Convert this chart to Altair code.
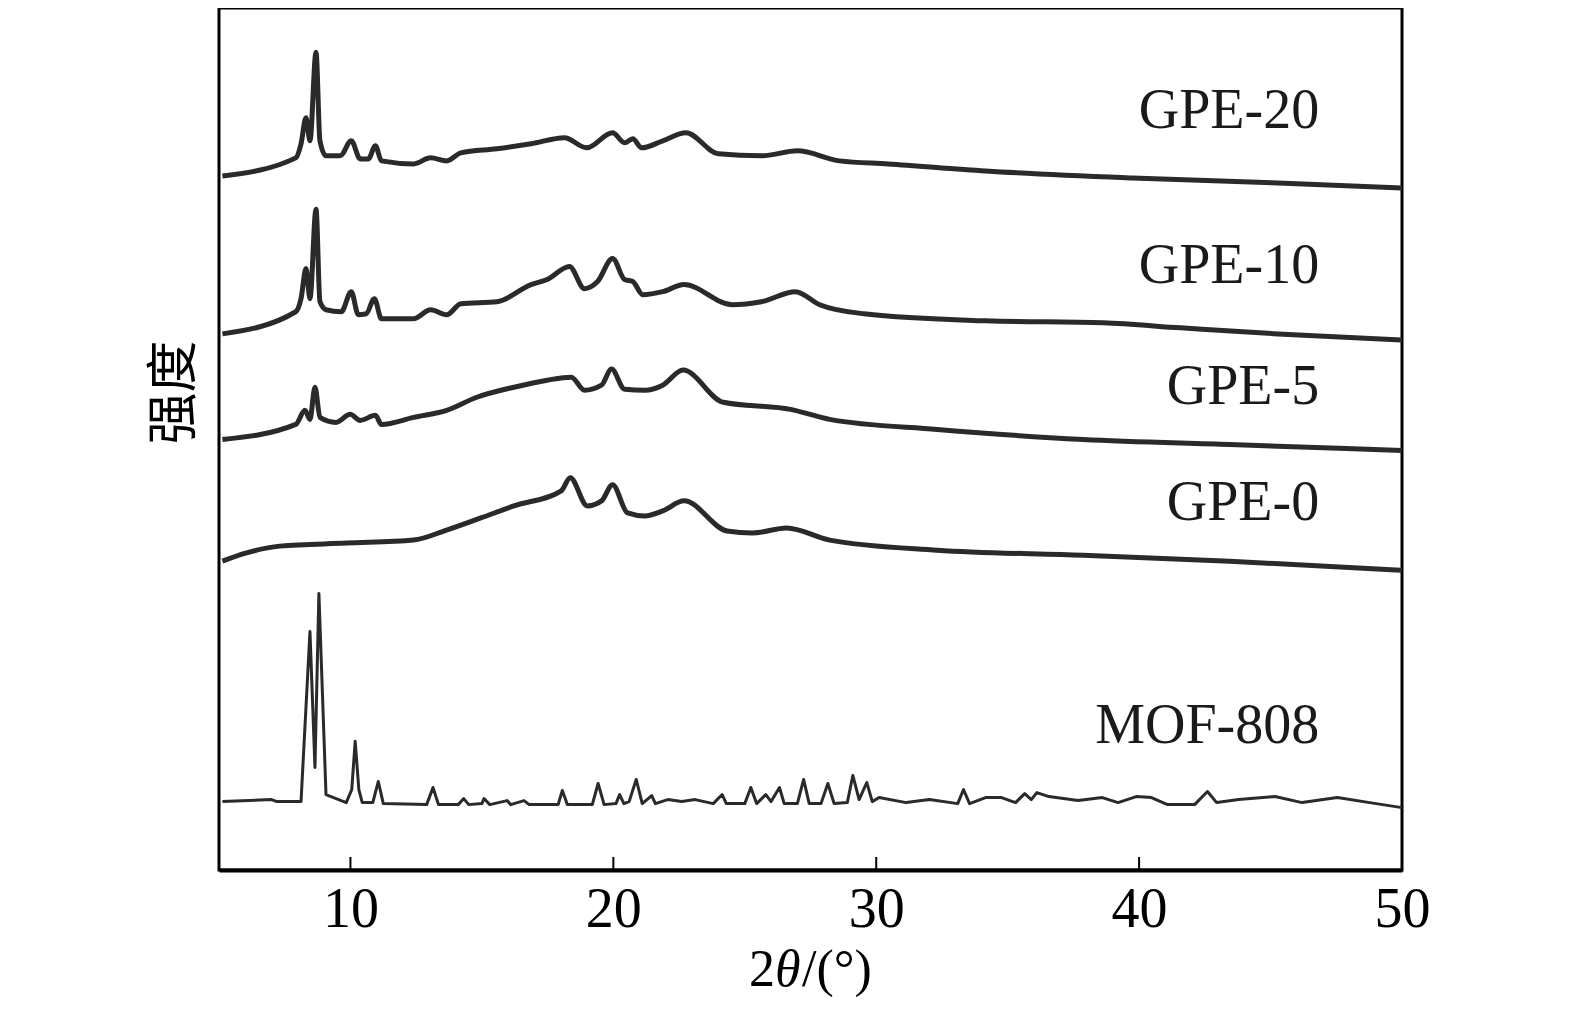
import altair as alt
import pandas as pd

# 2theta (deg) and intensity (a.u., stacked offsets as drawn)
gpe20_x = [5.13, 7.92, 8.12, 8.31, 8.46, 8.69, 8.84, 9.07, 9.61, 10.03, 10.37, 10.68, 10.95, 11.18,
           12.40, 13.05, 13.66, 14.20, 15.57, 16.87, 18.14, 18.98, 19.97, 20.43, 20.74, 21.08, 21.88,
           22.76, 23.99, 25.63, 27.0, 28.61, 30.45, 34.16, 39.74, 45.29, 50.0]
gpe20_y = [690, 708, 722, 748, 725, 813, 725, 710, 710, 725, 707, 707, 720, 705,
           702, 708, 705, 713, 717, 722, 728, 718, 733, 723, 727, 718, 725,
           733, 712, 710, 715, 705, 702, 695, 688, 683, 678]

gpe10_x = [5.13, 7.92, 8.12, 8.31, 8.46, 8.69, 8.84, 9.07, 9.65, 10.03, 10.30, 10.60, 10.91, 11.18,
           12.40, 13.05, 13.66, 14.20, 15.57, 16.87, 17.48, 18.33, 18.90, 19.40, 19.97, 20.43, 20.74,
           21.12, 21.88, 22.69, 24.52, 25.63, 26.93, 27.85, 29.53, 34.16, 38.63, 41.58, 45.29, 50.0]
gpe10_y = [533, 555, 568, 598, 568, 657, 565, 557, 555, 575, 552, 553, 568, 548,
           548, 557, 552, 563, 565, 582, 587, 600, 578, 585, 608, 587, 585,
           572, 575, 582, 562, 565, 575, 562, 553, 546, 544, 539, 533, 527]

gpe5_x = [5.13, 7.92, 8.27, 8.46, 8.65, 8.84, 9.45, 9.99, 10.37, 10.95, 11.18, 12.40, 13.66, 14.81,
          16.22, 17.48, 18.40, 18.90, 19.55, 19.93, 20.43, 21.19, 21.88, 22.65, 24.18, 26.74, 28.23,
          32.32, 37.87, 43.45, 50.0]
gpe5_y = [428, 443, 457, 448, 480, 450, 445, 453, 447, 452, 443, 450, 457, 470,
          480, 487, 490, 477, 482, 498, 478, 477, 482, 497, 465, 458, 448,
          438, 428, 423, 417]

gpe0_x = [5.13, 6.01, 7.31, 9.84, 12.40, 13.66, 14.96, 16.22, 18.02, 18.36, 19.01, 19.55, 19.97,
          20.54, 21.19, 21.88, 22.69, 24.33, 25.29, 26.59, 28.23, 32.32, 37.87, 43.45, 50.0]
gpe0_y = [307, 315, 322, 325, 328, 338, 350, 362, 377, 390, 362, 367, 383,
          355, 352, 357, 367, 337, 335, 340, 328, 318, 313, 307, 298]

mof_x = [5.13, 7.0, 7.2, 8.12, 8.46, 8.65, 8.80, 9.07, 9.84, 10.05, 10.18, 10.32, 10.45, 10.85,
         11.06, 11.25, 12.9, 13.14, 13.35, 14.1, 14.31, 14.5, 15.0, 15.08, 15.3, 15.96, 16.1, 16.6,
         16.8, 17.9, 18.06, 18.25, 19.2, 19.42, 19.65, 20.1, 20.24, 20.4, 20.6, 20.87, 21.1, 21.46,
         21.6, 22.07, 22.6, 23.11, 23.8, 24.14, 24.3, 25.0, 25.23, 25.45, 25.8, 26.0, 26.32, 26.5,
         27.0, 27.24, 27.45, 27.9, 28.16, 28.4, 28.9, 29.11, 29.35, 29.64, 29.85, 30.11, 31.14,
         32.02, 33.1, 33.32, 33.55, 34.16, 34.77, 35.3, 35.65, 35.9, 36.11, 36.57, 37.68, 38.6,
         39.2, 39.89, 40.47, 41.08, 42.11, 42.6, 42.95, 43.79, 45.17, 46.2, 47.54, 48.77, 50.0]
mof_y = [68, 70, 68, 68, 237, 102, 275, 75, 67, 80, 128, 80, 67, 67,
         88, 66, 65, 82, 65, 65, 71, 65, 66, 71, 65, 69, 65, 69,
         65, 65, 79, 65, 65, 86, 65, 66, 75, 66, 68, 90, 66, 74,
         66, 70, 68, 70, 66, 75, 66, 66, 82, 66, 75, 68, 82, 66,
         66, 90, 66, 66, 86, 66, 67, 94, 70, 87, 68, 72, 67,
         70, 66, 80, 66, 72, 72, 67, 76, 70, 77, 73, 69, 72,
         67, 73, 72, 65, 65, 78, 67, 70, 73, 67, 72, 67, 62]

label_names = ["GPE-20", "GPE-10", "GPE-5", "GPE-0", "MOF-808"]
label_x = [46.85, 46.85, 46.85, 46.85, 46.85]
label_y = [755, 600, 480, 365, 143]

tick_values = [10, 20, 30, 40]

# x-axis title pieces: (text, style)
xtitle_parts = [("2", "normal"), ("θ", "italic"), ("/(°)", "normal")]

series = [("GPE-20", gpe20_x, gpe20_y), ("GPE-10", gpe10_x, gpe10_y),
          ("GPE-5", gpe5_x, gpe5_y), ("GPE-0", gpe0_x, gpe0_y)]
rows = []
for name, xs, ys in series:
    for i, (a, b) in enumerate(zip(xs, ys)):
        rows.append({"s": name, "x": a, "y": b, "o": i})
gpe_df = pd.DataFrame(rows)
mof_df = pd.DataFrame({"s": "MOF-808", "x": mof_x, "y": mof_y, "o": range(len(mof_x))})
lab_df = pd.DataFrame({"name": label_names, "x": label_x, "y": label_y})
tick_df = pd.DataFrame({"t": tick_values})

W, H = 1183, 862
xscale = alt.Scale(domain=[5, 50], nice=False, zero=False)
yscale = alt.Scale(domain=[0, 857], nice=False, zero=False)
FONT = "Liberation Serif"
INK = "#2a2a2a"

xaxis = alt.Axis(values=[10, 20, 30, 40, 50], ticks=False, grid=False, labelFont=FONT,
                 labelFontSize=56, labelColor="black", labelPadding=12, labelFlush=False,
                 domainColor="black", domainWidth=4, title=None)
yaxis = alt.Axis(labels=False, ticks=False, grid=False, domain=False, title="强度",
                 titleFont="Noto Sans CJK SC", titleFontSize=52, titleFontWeight="normal",
                 titleColor="black", titleX=-45, titleY=384, titleBaseline="middle",
                 titleAngle=270)

gpe = alt.Chart(gpe_df).mark_line(color=INK, strokeWidth=5, strokeJoin="round",
                                  interpolate="monotone").encode(
    x=alt.X("x:Q", scale=xscale, axis=xaxis),
    y=alt.Y("y:Q", scale=yscale, axis=yaxis),
    detail="s:N",
    order="o:Q",
)
mof = alt.Chart(mof_df).mark_line(color=INK, strokeWidth=3, strokeJoin="round").encode(
    x=alt.X("x:Q", scale=xscale),
    y=alt.Y("y:Q", scale=yscale),
    order="o:Q",
)
labels = alt.Chart(lab_df).mark_text(align="right", baseline="middle", font=FONT,
                                     fontSize=56, color="#1a1a1a").encode(
    x=alt.X("x:Q", scale=xscale),
    y=alt.Y("y:Q", scale=yscale),
    text="name:N",
)
ticks = alt.Chart(tick_df).mark_rule(color="black", strokeWidth=2).encode(
    x=alt.X("t:Q", scale=xscale),
    y=alt.value(H - 13),
    y2=alt.value(H),
)

# axis title assembled from pieces so that theta is italic
TX, TY, TFS = 556, 978, 52
t_2 = alt.Chart(pd.DataFrame({"t": [xtitle_parts[0][0]]})).mark_text(
    align="right", baseline="alphabetic", font=FONT, fontSize=TFS, color="black",
    fontStyle=xtitle_parts[0][1]).encode(text="t:N", x=alt.value(TX), y=alt.value(TY))
t_th = alt.Chart(pd.DataFrame({"t": [xtitle_parts[1][0]]})).mark_text(
    align="left", baseline="alphabetic", font=FONT, fontSize=TFS, color="black",
    fontStyle=xtitle_parts[1][1]).encode(text="t:N", x=alt.value(TX), y=alt.value(TY))
t_rest = alt.Chart(pd.DataFrame({"t": [xtitle_parts[2][0]]})).mark_text(
    align="left", baseline="alphabetic", font=FONT, fontSize=TFS, color="black",
    fontStyle=xtitle_parts[2][1]).encode(text="t:N", x=alt.value(TX + 27), y=alt.value(TY))

chart = alt.layer(gpe, mof, ticks, labels, t_2, t_th, t_rest).properties(
    width=W, height=H,
    autosize=alt.AutoSizeParams(type="none"),
    padding={"left": 211, "top": 0, "right": 30, "bottom": 128},
    background="white",
).configure_view(stroke="black", strokeWidth=3, fill="white")

chart.save("out.html", embed_options={"renderer": "svg", "actions": False})
